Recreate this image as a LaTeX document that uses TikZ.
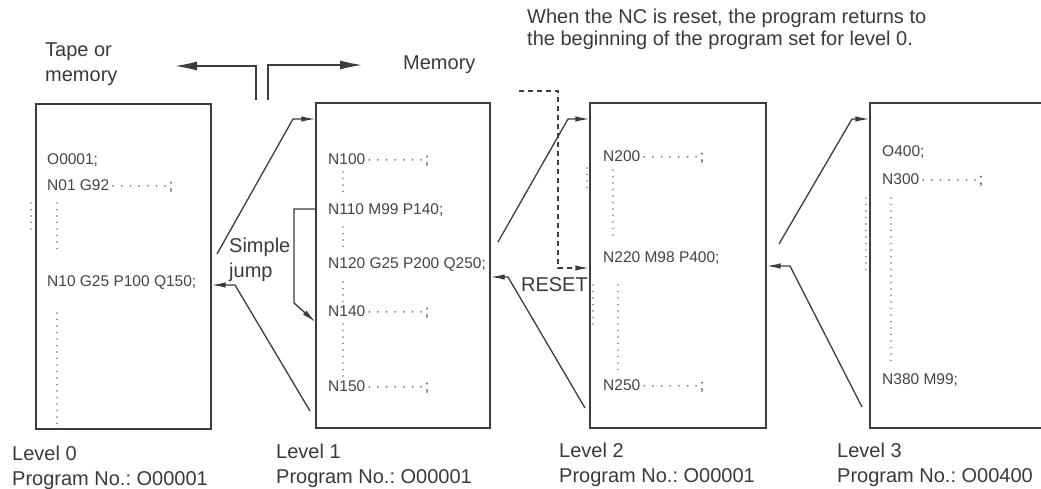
\documentclass[tikz,border=0pt]{standalone}
\usepackage{fontspec}
\setmainfont{Liberation Sans}
\usepackage{tikz}
\usetikzlibrary{arrows.meta,positioning,calc}
\definecolor{lineGray}{HTML}{3C3C3C}
\definecolor{txtGray}{HTML}{3A3A3A}
\definecolor{codeGray}{HTML}{444444}
\definecolor{dotGray}{HTML}{7A7A7A}
\frenchspacing
\newcommand{\ldr}{\kern1.5pt\textcolor{dotGray}{·\kern3.5pt·\kern3.5pt·\kern3.5pt·\kern3.5pt·\kern3.5pt·\kern3.5pt·}\kern1pt}
\tikzset{
  prog/.style={draw=lineGray, line width=1.3pt, inner sep=0pt, minimum height=325pt},
  code/.style={anchor=west, inner sep=0pt, font=\fontsize{15.5}{18}\selectfont, text=codeGray},
  lbl/.style={anchor=west, align=left, inner sep=0pt, font=\fontsize{20}{25}\selectfont, text=txtGray},
  link/.style={-{Latex[length=14pt,width=5.5pt]}, line width=1.3pt, draw=lineGray},
  resetln/.style={link, dash pattern=on 5pt off 4pt, line width=1.6pt},
  bigarr/.style={-{Latex[length=22pt,width=9pt]}, line width=1.3pt, draw=lineGray},
  dotcol/.style={draw=dotGray, line width=1.6pt, line cap=round, dash pattern=on 0pt off 6.5pt}
}
\begin{document}
\begin{tikzpicture}[x=1pt,y=-1pt]
  \useasboundingbox (0,0) rectangle (1041,489);
  % the four program levels
  \node[prog, minimum width=175pt] (lv0) at (123.5,266.5) {};
  \node[prog, minimum width=174pt] (lv1) at (403,265.5) {};
  \node[prog, minimum width=176pt] (lv2) at (678,265.5) {};
  \node[prog, minimum width=200pt] (lv3) at (970,265.5) {};
  % level 0
  \node[code] (l0a) at (47,160) {O0001;};
  \node[code] (l0b) at (47,186) {N01 G92\ldr;};
  \node[code] (l0c) at (47,283) {N10 G25 P100 Q150;};
  \draw[dotcol] (57,203) -- (57,252);
  \draw[dotcol] (57,313) -- (57,427);
  \draw[dotcol] (31,203) -- (31,230);
  % level 1
  \node[code] (l1a) at (328,160) {N100\ldr;};
  \node[code] (l1b) at (328,210) {N110 M99 P140;};
  \node[code] (l1c) at (328,265) {N120 G25 P200 Q250;};
  \node[code] (l1d) at (328,312) {N140\ldr;};
  \node[code] (l1e) at (328,387) {N150\ldr;};
  \draw[dotcol] (343,172) -- (343,197);
  \draw[dotcol] (343,227) -- (343,247);
  \draw[dotcol] (343,282) -- (343,306);
  \draw[dotcol] (343,324) -- (343,376);
  % level 2
  \node[code] (l2a) at (603,157) {N200\ldr;};
  \node[code] (l2b) at (603,258) {N220 M98 P400;};
  \node[code] (l2c) at (603,386) {N250\ldr;};
  \draw[dotcol] (613,170) -- (613,241);
  \draw[dotcol] (618,285) -- (618,371);
  \draw[dotcol] (587,168) -- (587,194);
  \draw[dotcol] (593,285) -- (593,327);
  % level 3
  \node[code] (l3a) at (882,152) {O400;};
  \node[code] (l3b) at (882,180) {N300\ldr;};
  \node[code] (l3c) at (882,380) {N380 M99;};
  \draw[dotcol] (891,198) -- (891,363);
  \draw[dotcol] (866,198) -- (866,276);
  % labels
  \node[lbl] (tape) at (45,64.5) {Tape or\\memory};
  \node[lbl] (mem) at (403,65) {Memory};
  \node[lbl, font=\fontsize{20}{22}\selectfont] (note) at (527,29) {When the NC is reset, the program returns to\\the beginning of the program set for level 0.};
  \node[lbl] (jump) at (229,259.5) {Simple\\jump};
  \node[lbl, anchor=east] (rst) at (588,285) {RESET};
  \node[lbl] (cap0) at (12,467.5) {Level 0\\Program No.: O00001};
  \node[lbl] (cap1) at (276,465.5) {Level 1\\Program No.: O00001};
  \node[lbl] (cap2) at (559,465) {Level 2\\Program No.: O00001};
  \node[lbl] (cap3) at (837,465) {Level 3\\Program No.: O00400};
  % tape / memory split
  \coordinate (splitL) at (256,100);
  \coordinate (splitR) at (268,100);
  \coordinate (tapeEnd) at (175,66);
  \coordinate (memEnd) at (362,65);
  \draw[bigarr] (splitL) |- (tapeEnd);
  \draw[bigarr] (splitR) |- (memEnd);
  % calls and returns
  \coordinate (c01a) at (217,254);  \coordinate (c01b) at (293,119);
  \coordinate (r10a) at (310,411);  \coordinate (r10b) at (235,285);
  \coordinate (c12a) at (498,242);  \coordinate (c12b) at (568,119);
  \coordinate (r21a) at (585,408);  \coordinate (r21b) at (508,277);
  \coordinate (c23a) at (779,244);  \coordinate (c23b) at (852,119);
  \coordinate (r32a) at (862,407);  \coordinate (r32b) at (790,266);
  \draw[link] (c01a) -- (c01b) -- (c01b -| lv1.west);
  \draw[link] (r10a) -- (r10b) -- (r10b -| lv0.east);
  \draw[link] (c12a) -- (c12b) -- (c12b -| lv2.west);
  \draw[link] (r21a) -- (r21b) -- (r21b -| lv1.east);
  \draw[link] (c23a) -- (c23b) -- (c23b -| lv3.west);
  \draw[link] (r32a) -- (r32b) -- (r32b -| lv2.east);
  % simple jump inside level 1
  \coordinate (jmpA) at (294,209);
  \coordinate (jmpB) at (294,303);
  \draw[link] (jmpA -| lv1.west) -- (jmpA) -- (jmpB) -- (lv1.west |- 0,322);
  % reset back to level 2
  \coordinate (rstA) at (519,91);
  \coordinate (rstB) at (558,268);
  \draw[resetln] (rstA) -| (rstB) -- (rstB -| lv2.west);
\end{tikzpicture}
\end{document}
